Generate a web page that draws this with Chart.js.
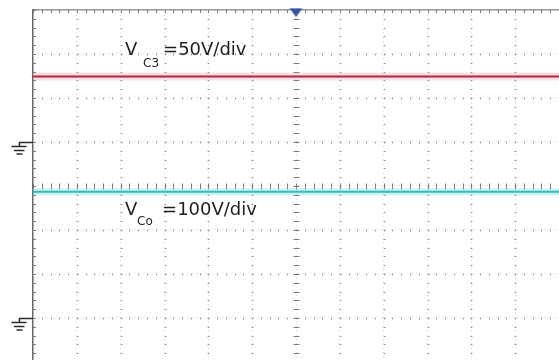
<!DOCTYPE html>
<html><head><meta charset="utf-8">
<script src="https://cdn.jsdelivr.net/npm/chart.js@4/dist/chart.umd.min.js"></script>
<style>html,body{margin:0;padding:0;background:#fff;overflow:hidden}#wrap{position:relative;width:559px;height:360px}</style>
</head><body><div id="wrap"><canvas id="c" width="559" height="360"></canvas></div>
<script>
// time axis in divisions (12 horizontal divisions on screen)
const timeDivs = [0,0.5,1,1.5,2,2.5,3,3.5,4,4.5,5,5.5,6,6.5,7,7.5,8,8.5,9,9.5,10,10.5,11,11.5,12];
// V_C3 trace, in divisions (50 V/div)
const vc3Div = [2.49,2.49,2.49,2.49,2.49,2.49,2.49,2.49,2.49,2.49,2.49,2.49,2.49,2.49,2.49,2.49,2.49,2.49,2.49,2.49,2.49,2.49,2.49,2.49,2.49];
// V_Co trace, in divisions (100 V/div)
const vcoDiv = [-0.13,-0.13,-0.13,-0.13,-0.13,-0.13,-0.13,-0.13,-0.13,-0.13,-0.13,-0.13,-0.13,-0.13,-0.13,-0.13,-0.13,-0.13,-0.13,-0.13,-0.13,-0.13,-0.13,-0.13,-0.13];
// channel ground reference levels (divisions)
const groundLevels = [1, -3];
// labels
const labelMain = ['V', 'V'];
const labelSub = ['C3', 'Co'];
const labelRest = ['=50V/div', '=100V/div'];

const pts = (ys) => timeDivs.map((x, i) => ({x, y: ys[i]}));

const scopePlugin = {
  id: 'scope',
  beforeDatasetsDraw(chart) {
    const ctx = chart.ctx, xs = chart.scales.x, ys = chart.scales.y, a = chart.chartArea;
    ctx.save();
    // subdivision marks on grid lines
    for (let gx = 1; gx < 12; gx++) {
      if (gx === 6) continue;
      const px = Math.round(xs.getPixelForValue(gx));
      for (let v = 4; v > -4; v -= 0.2) {
        const py = Math.round(ys.getPixelForValue(v));
        ctx.fillStyle = '#d6d6d6'; ctx.fillRect(px - 1, py, 3, 1);
        ctx.fillStyle = '#8a8a8a'; ctx.fillRect(px, py, 1, 1);
      }
    }
    for (let gy = -3; gy < 4; gy++) {
      if (gy === 0) continue;
      const py = Math.round(ys.getPixelForValue(gy));
      for (let u = 0; u <= 12; u += 0.2) {
        const px = Math.round(xs.getPixelForValue(u));
        ctx.fillStyle = '#d6d6d6'; ctx.fillRect(px, py - 1, 1, 3);
        ctx.fillStyle = '#8a8a8a'; ctx.fillRect(px, py, 1, 1);
      }
    }
    // center crosshair ticks
    ctx.strokeStyle = '#7a7a7a';
    ctx.lineWidth = 1;
    const cx = Math.round(xs.getPixelForValue(6)) + 0.5;
    const cy = Math.round(ys.getPixelForValue(0)) + 0.5;
    ctx.beginPath();
    for (let v = 4; v > -4; v -= 0.2) {
      const py = Math.round(ys.getPixelForValue(v)) + 0.5;
      ctx.moveTo(cx - 3, py); ctx.lineTo(cx + 3, py);
    }
    for (let u = 0; u <= 12; u += 0.2) {
      const px = Math.round(xs.getPixelForValue(u)) + 0.5;
      ctx.moveTo(px, cy - 3); ctx.lineTo(px, cy + 3);
    }
    // border ticks
    for (let v = 4; v > -4; v -= 0.2) {
      const py = Math.round(ys.getPixelForValue(v)) + 0.5;
      ctx.moveTo(a.left, py); ctx.lineTo(a.left + 3, py);
    }
    for (let u = 0; u <= 12; u += 0.2) {
      const px = Math.round(xs.getPixelForValue(u)) + 0.5;
      ctx.moveTo(px, a.top); ctx.lineTo(px, a.top + 3);
    }
    ctx.stroke();
    ctx.restore();
  },
  afterDraw(chart) {
    const ctx = chart.ctx, xs = chart.scales.x, ys = chart.scales.y, a = chart.chartArea;
    ctx.save();
    // trigger position marker
    const tx = xs.getPixelForValue(6);
    ctx.fillStyle = 'rgba(120,150,210,0.35)';
    ctx.beginPath();
    ctx.moveTo(tx - 8, a.top - 2); ctx.lineTo(tx + 8, a.top - 2); ctx.lineTo(tx, a.top + 9); ctx.closePath();
    ctx.fill();
    ctx.fillStyle = '#35559a';
    ctx.beginPath();
    ctx.moveTo(tx - 6, a.top - 1.5); ctx.lineTo(tx + 6, a.top - 1.5); ctx.lineTo(tx, a.top + 6.5); ctx.closePath();
    ctx.fill();
    // ground symbols
    ctx.strokeStyle = '#2a2a2a';
    ctx.lineWidth = 1.5;
    groundLevels.forEach(g => {
      const gy = Math.round(ys.getPixelForValue(g)) + 0.5;
      const sx = a.left - 13.5;
      ctx.beginPath();
      ctx.moveTo(a.left, gy); ctx.lineTo(sx, gy); ctx.lineTo(sx, gy + 4);
      ctx.moveTo(sx - 8, gy + 4); ctx.lineTo(sx + 7, gy + 4);
      ctx.moveTo(sx - 5.5, gy + 8); ctx.lineTo(sx + 5, gy + 8);
      ctx.moveTo(sx - 3, gy + 11.5); ctx.lineTo(sx + 3, gy + 11.5);
      ctx.stroke();
    });
    // channel labels
    const place = [
      {x: 2.1, y: 2.98, subDx: 18, subDy: 12, restDx: 38},
      {x: 2.1, y: -0.66, subDx: 12, subDy: 10, restDx: 37}
    ];
    ctx.fillStyle = '#1e1e1e';
    ctx.textBaseline = 'alphabetic';
    place.forEach((p, i) => {
      const px = xs.getPixelForValue(p.x), py = ys.getPixelForValue(p.y);
      ctx.font = '18px "DejaVu Sans"';
      ctx.fillText(labelMain[i], px, py);
      ctx.fillText(labelRest[i], px + p.restDx, py);
      ctx.font = '12px "DejaVu Sans"';
      ctx.fillText(labelSub[i], px + p.subDx, py + p.subDy);
    });
    ctx.restore();
  }
};

new Chart(document.getElementById('c'), {
  type: 'line',
  data: {
    datasets: [
      {data: pts(vc3Div), borderColor: '#b3263a', borderWidth: 2, pointRadius: 0, tension: 0},
      {data: pts(vcoDiv), borderColor: '#3cb8b8', borderWidth: 2, pointRadius: 0, tension: 0},
      {data: pts(vc3Div), borderColor: 'rgba(240,150,165,0.3)', borderWidth: 8, pointRadius: 0, tension: 0},
      {data: pts(vcoDiv), borderColor: 'rgba(120,225,225,0.4)', borderWidth: 7, pointRadius: 0, tension: 0}
    ]
  },
  options: {
    responsive: false,
    animation: false,
    events: [],
    layout: {padding: {left: 33, top: 10, right: 0, bottom: 0}},
    plugins: {legend: {display: false}, tooltip: {enabled: false}},
    scales: {
      x: {
        type: 'linear', position: 'top', min: 0, max: 12,
        afterBuildTicks: (s) => { s.ticks = [0,1,2,3,4,5,6,7,8,9,10,11,12].map(v => ({value: v})); },
        ticks: {display: false},
        grid: {color: 'rgba(160,160,160,0.45)', lineWidth: 1, drawTicks: false},
        border: {display: true, color: '#9a9a9a', width: 1.5, dash: [1, 3.38]}
      },
      y: {
        type: 'linear', position: 'left', min: -3.955, max: 4,
        afterBuildTicks: (s) => { s.ticks = [-3,-2,-1,0,1,2,3,4].map(v => ({value: v})); },
        ticks: {display: false},
        grid: {color: 'rgba(160,160,160,0.45)', lineWidth: 1, drawTicks: false},
        border: {display: true, color: '#6a6a6a', width: 1.5, dash: [1, 3.4]}
      }
    }
  },
  plugins: [scopePlugin]
});
</script></body></html>
